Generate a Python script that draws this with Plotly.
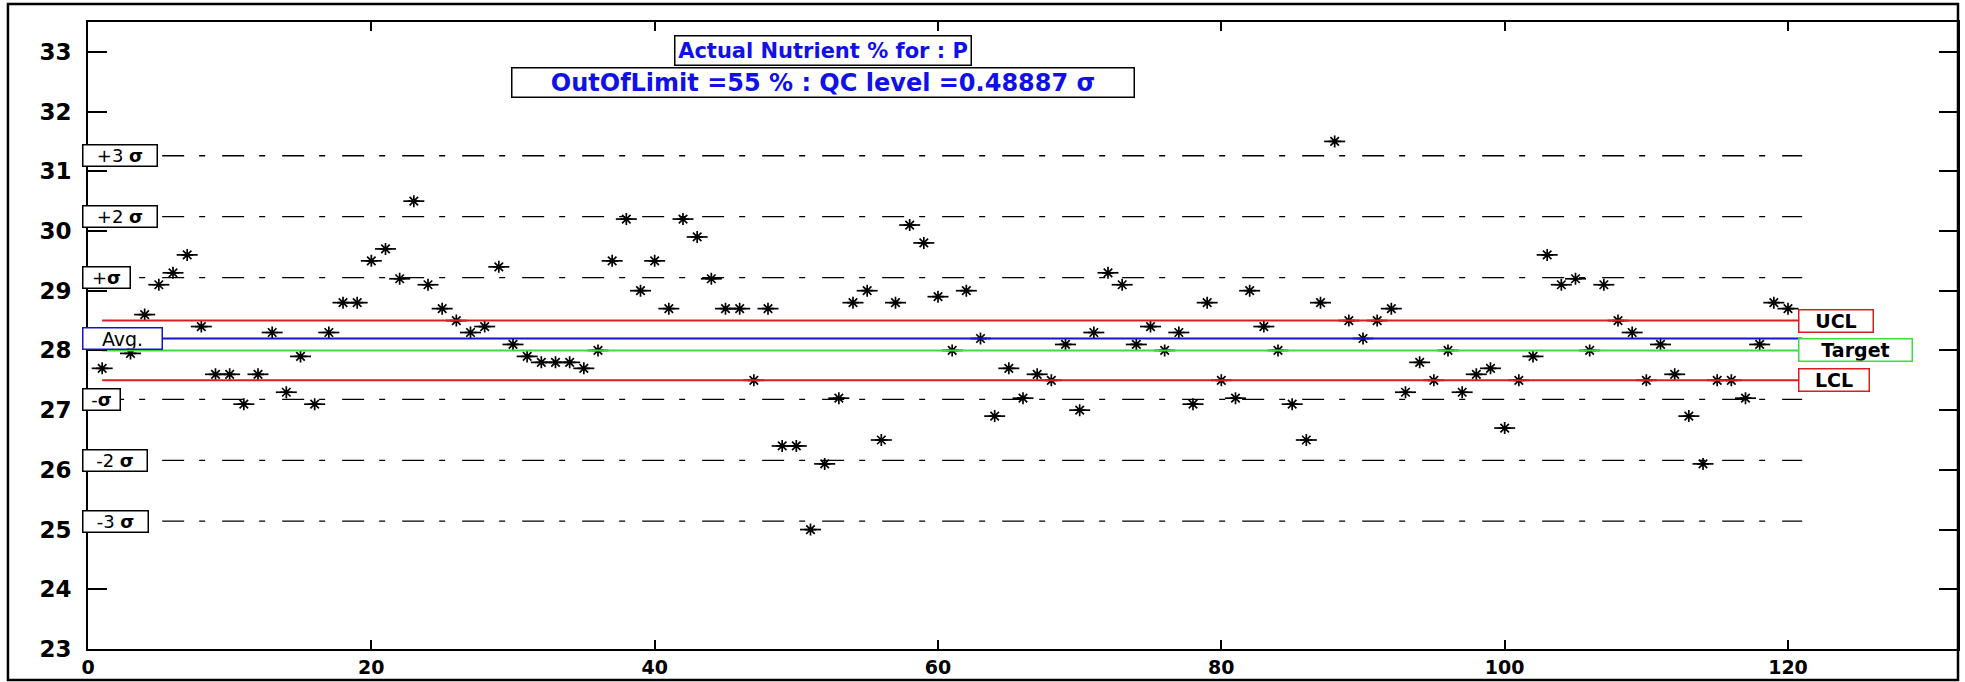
import plotly.graph_objects as go

# ---------------- data ----------------
sample_no = list(range(1, 121))
nutrient_p = [27.7, 28.2, 27.95, 28.6, 29.1, 29.3, 29.6, 28.4, 27.6, 27.6,
              27.1, 27.6, 28.3, 27.3, 27.9, 27.1, 28.3, 28.8, 28.8, 29.5,
              29.7, 29.2, 30.5, 29.1, 28.7, 28.5, 28.3, 28.4, 29.4, 28.1,
              27.9, 27.8, 27.8, 27.8, 27.7, 28.0, 29.5, 30.2, 29.0, 29.5,
              28.7, 30.2, 29.9, 29.2, 28.7, 28.7, 27.5, 28.7, 26.4, 26.4,
              25.0, 26.1, 27.2, 28.8, 29.0, 26.5, 28.8, 30.1, 29.8, 28.9,
              28.0, 29.0, 28.2, 26.9, 27.7, 27.2, 27.6, 27.5, 28.1, 27.0,
              28.3, 29.3, 29.1, 28.1, 28.4, 28.0, 28.3, 27.1, 28.8, 27.5,
              27.2, 29.0, 28.4, 28.0, 27.1, 26.5, 28.8, 31.5, 28.5, 28.2,
              28.5, 28.7, 27.3, 27.8, 27.5, 28.0, 27.3, 27.6, 27.7, 26.7,
              27.5, 27.9, 29.6, 29.1, 29.2, 28.0, 29.1, 28.5, 28.3, 27.5,
              28.1, 27.6, 26.9, 26.1, 27.5, 27.5, 27.2, 28.1, 28.8, 28.7]

line_x = [1, 121]
ucl, target, avg, lcl = 28.5, 28.0, 28.2, 27.5
sigma_levels = [31.26, 30.24, 29.22, 27.18, 26.16, 25.14]
sigma_labels = ["+3 <b>σ</b>", "+2 <b>σ</b>", "+<b>σ</b>", "-<b>σ</b>", "-2 <b>σ</b>", "-3 <b>σ</b>"]

x_ticks = [0, 20, 40, 60, 80, 100, 120]
y_ticks = [23, 24, 25, 26, 27, 28, 29, 30, 31, 32, 33]

title_1 = "Actual Nutrient % for : P"
title_2 = "OutOfLimit =55 % : QC level =0.48887 σ"

# ---------------- style ----------------
sigma_box_w = [73, 73, 46, 36, 63, 64]
RED = "#d81e1e"
BLUE = "#1414c8"
GREEN = "#3ade3a"
TBLUE = "#1010e8"
FONT = "DejaVu Sans"

fig = go.Figure()

# star markers (wide horizontal bar + asterisk, like the stretched MATLAB '*')
fig.add_trace(go.Scatter(x=sample_no, y=nutrient_p, mode="markers",
                         marker=dict(symbol="line-ew-open", size=15, color="black",
                                     line=dict(width=1.7, color="black")),
                         hoverinfo="skip", showlegend=False))
fig.add_trace(go.Scatter(x=sample_no, y=nutrient_p, mode="markers",
                         marker=dict(symbol="asterisk-open", size=10, color="black",
                                     line=dict(width=1.7, color="black")),
                         showlegend=False))

# sigma dash-dot lines
for lv in sigma_levels:
    fig.add_trace(go.Scatter(x=line_x, y=[lv, lv], mode="lines",
                             line=dict(color="black", width=1.3, dash="22px,15px,6px,17px"),
                             hoverinfo="skip", showlegend=False))

# control lines
for lv, col in [(ucl, RED), (avg, BLUE), (target, GREEN), (lcl, RED)]:
    fig.add_trace(go.Scatter(x=line_x, y=[lv, lv], mode="lines",
                             line=dict(color=col, width=2),
                             hoverinfo="skip", showlegend=False))

ann = []
for lv, txt, w in zip(sigma_levels, sigma_labels, sigma_box_w):
    ann.append(dict(xref="paper", x=0, xshift=-6, xanchor="left", yref="y", y=lv,
                    yanchor="middle", text=txt, showarrow=False,
                    font=dict(family=FONT, size=18, color="black"),
                    bgcolor="white", bordercolor="black", borderwidth=1.5, borderpad=0,
                    width=w, height=20))
ann.append(dict(xref="paper", x=0, xshift=-6, xanchor="left", yref="y", y=avg,
                yanchor="middle", text="Avg.", showarrow=False,
                font=dict(family=FONT, size=19, color="black"),
                bgcolor="white", bordercolor=BLUE, borderwidth=1.5, borderpad=0,
                width=78, height=20))

for lv, txt, col, w in [(ucl, "UCL", RED, 73), (target, "Target", GREEN, 112), (lcl, "LCL", RED, 69)]:
    ann.append(dict(xref="x", x=120.7, xanchor="left", yref="y", y=lv, yanchor="middle",
                    text="<b>" + txt + "</b>", showarrow=False,
                    font=dict(family=FONT, size=19, color="black"),
                    bgcolor="white", bordercolor=col, borderwidth=1.5, borderpad=0,
                    width=w, height=21))

ann.append(dict(xref="x", x=51.9, xanchor="center", yref="y", y=33.03, yanchor="middle",
                text="<b>" + title_1 + "</b>", showarrow=False,
                font=dict(family=FONT, size=21, color=TBLUE),
                bgcolor="white", bordercolor="black", borderwidth=1.5, borderpad=0,
                width=295, height=28))
ann.append(dict(xref="x", x=51.9, xanchor="center", yref="y", y=32.48, yanchor="middle",
                text="<b>" + title_2 + "</b>", showarrow=False,
                font=dict(family=FONT, size=24, color=TBLUE),
                bgcolor="white", bordercolor="black", borderwidth=1.5, borderpad=0,
                width=621, height=28))

fig.update_layout(
    width=1965, height=682, autosize=False,
    margin=dict(l=88, r=7, t=22, b=33, autoexpand=False),
    paper_bgcolor="white", plot_bgcolor="white",
    showlegend=False,
    annotations=ann,
    shapes=[dict(type="rect", xref="paper", yref="paper",
                 x0=-0.0428, x1=1.0, y0=-0.0494, y1=1.0287,
                 line=dict(color="black", width=2.5))],
)
fig.update_xaxes(range=[0, 132], tickmode="array", tickvals=x_ticks,
                 ticktext=[str(v) for v in x_ticks], automargin=False,
                 ticks="inside", ticklen=9, tickwidth=1.5, tickcolor="black",
                 showline=True, linewidth=2, linecolor="black", mirror="ticks",
                 showgrid=False, zeroline=False, ticklabelstandoff=0,
                 tickfont=dict(family=FONT, size=19, color="black", weight="bold"))
fig.update_yaxes(range=[23, 33.5], tickmode="array", tickvals=y_ticks,
                 ticktext=[str(v) for v in y_ticks], automargin=False,
                 ticks="inside", ticklen=19, tickwidth=1.5, tickcolor="black",
                 showline=True, linewidth=2, linecolor="black", mirror="ticks",
                 showgrid=False, zeroline=False, ticklabelstandoff=10,
                 tickfont=dict(family=FONT, size=23, color="black", weight="bold"))

fig.write_html("out.html")
